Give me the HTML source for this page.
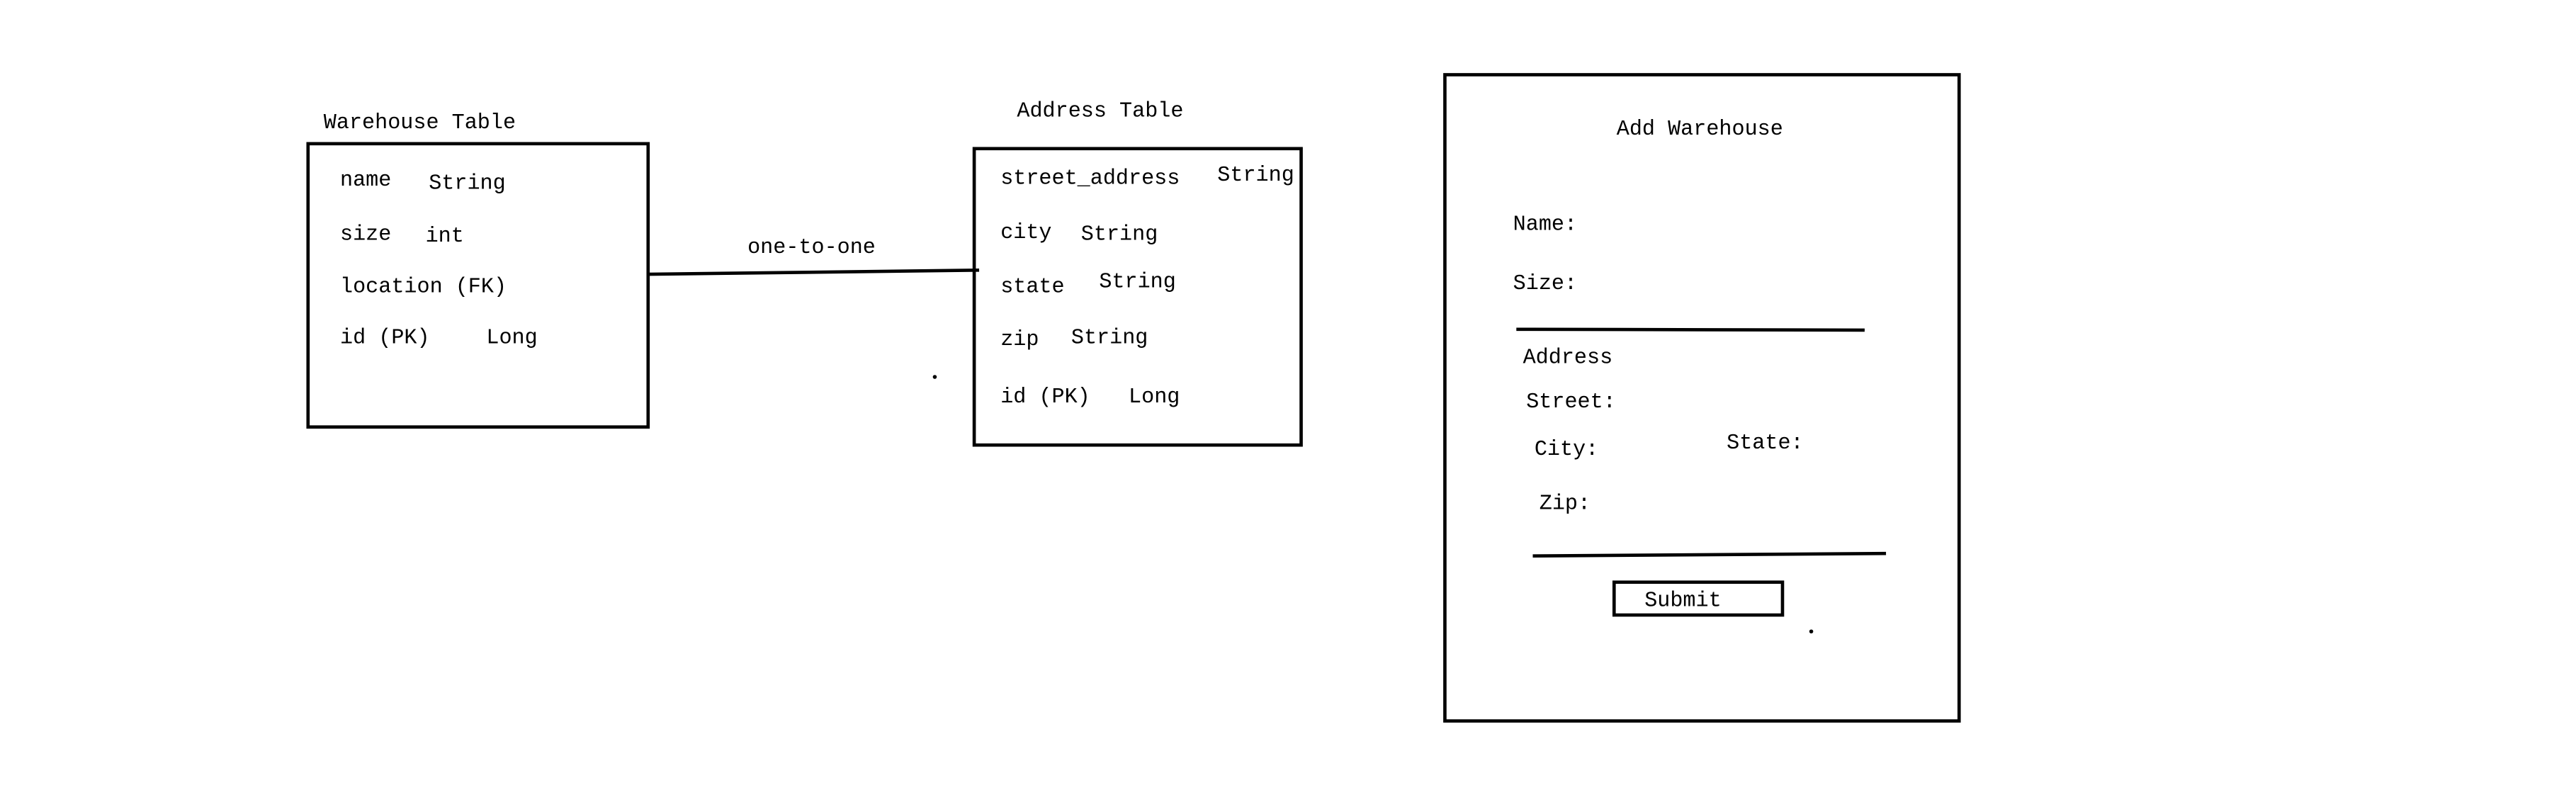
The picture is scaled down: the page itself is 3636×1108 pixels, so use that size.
<!DOCTYPE html>
<html><head><meta charset="utf-8"><style>
html,body{margin:0;padding:0;background:#fff;}
svg{display:block;}
text{font-family:"Liberation Mono",monospace;font-size:13px;fill:#000;dominant-baseline:central;}
</style></head><body>
<svg width="3636" height="1108" viewBox="0 0 1568 478" preserveAspectRatio="none" xmlns="http://www.w3.org/2000/svg">
<rect width="1568" height="478" fill="#fff"/>
<g fill="none" stroke="#000" stroke-width="2">
<rect x="187.5" y="87.5" width="207" height="172.5"/>
<rect x="593" y="90.5" width="199" height="180.5"/>
<rect x="879.5" y="45.5" width="313" height="393.5"/>
<rect x="982.5" y="354.5" width="102.5" height="20"/>
<path d="M395 167 L596 164.5"/>
<path d="M923 200.5 L1135 201"/>
<path d="M933 338.5 L1148 337"/>
</g>
<circle cx="569" cy="229.5" r="1.2" fill="#000"/>
<circle cx="1102.5" cy="384.5" r="1.2" fill="#000"/>
<text x="197" y="75">Warehouse Table</text>
<text x="207" y="110">name</text><text x="261" y="112">String</text>
<text x="207" y="143">size</text><text x="259" y="144">int</text>
<text x="207" y="175">location (FK)</text>
<text x="207" y="206">id (PK)</text><text x="296" y="206">Long</text>
<text x="455" y="151">one-to-one</text>
<text x="619" y="68">Address Table</text>
<text x="609" y="109">street_address</text><text x="741" y="107">String</text>
<text x="609" y="142">city</text><text x="658" y="143">String</text>
<text x="609" y="175">state</text><text x="669" y="172">String</text>
<text x="609" y="207">zip</text><text x="652" y="206">String</text>
<text x="609" y="242">id (PK)</text><text x="687" y="242">Long</text>
<text x="984" y="79">Add Warehouse</text>
<text x="921" y="137">Name:</text>
<text x="921" y="173">Size:</text>
<text x="927" y="218">Address</text>
<text x="929" y="245">Street:</text>
<text x="934" y="274">City:</text>
<text x="1051" y="270">State:</text>
<text x="937" y="307">Zip:</text>
<text x="1001" y="366">Submit</text>
</svg>
</body></html>
